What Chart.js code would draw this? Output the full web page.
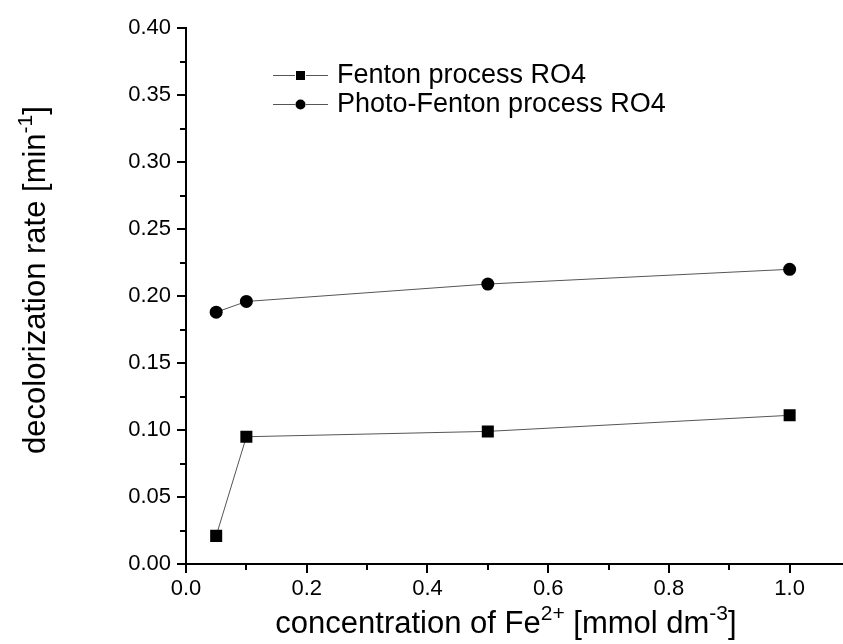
<!DOCTYPE html>
<html>
<head>
<meta charset="utf-8">
<script src="https://cdn.jsdelivr.net/npm/chart.js@4/dist/chart.umd.min.js"></script>
<style>
	html, body { margin: 0; padding: 0; background: #fff; overflow: hidden; }
	#wrap { width: 843px; height: 644px; overflow: hidden; }
</style>
</head>
<body>
<div id="wrap"><canvas id="chart" width="860" height="644"></canvas></div>
<script>
// Fe2+ concentration [mmol dm-3]
const concentrations = [0.05, 0.1, 0.5, 1.0];
// decolorization rate [min-1]
const fentonRate = [0.021, 0.095, 0.099, 0.111];
const photoFentonRate = [0.188, 0.196, 0.209, 0.220];

const seriesNames = ['Fenton process RO4', 'Photo-Fenton process RO4'];

const xMajorTicks = [0.0, 0.2, 0.4, 0.6, 0.8, 1.0];
const xMinorTicks = [0.1, 0.3, 0.5, 0.7, 0.9];
const yMajorTicks = [0.00, 0.05, 0.10, 0.15, 0.20, 0.25, 0.30, 0.35, 0.40];
const yMinorTicks = [0.025, 0.075, 0.125, 0.175, 0.225, 0.275, 0.325, 0.375];

const FONT = '"Liberation Sans", Arial, sans-serif';

function toPoints(ys) {
	return concentrations.map((x, i) => ({ x: x, y: ys[i] }));
}

// outward tick marks, major and minor
const tickMarks = {
	id: 'tickMarks',
	afterDraw(chart) {
		const ctx = chart.ctx;
		const xs = chart.scales.x;
		const ys = chart.scales.y;
		const x0 = ys.right;
		const y0 = xs.top;
		ctx.save();
		ctx.strokeStyle = '#000';
		ctx.lineWidth = 2;
		ctx.beginPath();
		for (let v of xMajorTicks) {
			let px = Math.round(xs.getPixelForValue(v));
			ctx.moveTo(px, y0); ctx.lineTo(px, y0 + 9);
		}
		for (let v of xMinorTicks) {
			let px = Math.round(xs.getPixelForValue(v));
			ctx.moveTo(px, y0); ctx.lineTo(px, y0 + 6);
		}
		for (let v of yMajorTicks) {
			let py = Math.round(ys.getPixelForValue(v));
			ctx.moveTo(x0, py); ctx.lineTo(x0 - 9, py);
		}
		for (let v of yMinorTicks) {
			let py = Math.round(ys.getPixelForValue(v));
			ctx.moveTo(x0, py); ctx.lineTo(x0 - 6, py);
		}
		ctx.stroke();
		ctx.restore();
	}
};

// text runs with raised, smaller superscripts, centred on cx
function drawRuns(ctx, runs, cx, y) {
	const big = '31px ' + FONT;
	const small = '21px ' + FONT;
	let total = 0;
	for (let r of runs) {
		ctx.font = r.sup ? small : big;
		total += ctx.measureText(r.text).width;
	}
	let x = cx - total / 2;
	for (let r of runs) {
		ctx.font = r.sup ? small : big;
		ctx.fillText(r.text, x, r.sup ? y - 13 : y);
		x += ctx.measureText(r.text).width;
	}
}

const axisTitles = {
	id: 'axisTitles',
	afterDraw(chart) {
		const ctx = chart.ctx;
		ctx.save();
		ctx.fillStyle = '#000';
		ctx.textBaseline = 'alphabetic';
		ctx.textAlign = 'left';
		drawRuns(ctx, [
			{ text: 'concentration of Fe' },
			{ text: '2+', sup: true },
			{ text: ' [mmol dm' },
			{ text: '-3', sup: true },
			{ text: ']' },
		], 506, 633);

		ctx.translate(45, 0);
		ctx.rotate(-Math.PI / 2);
		drawRuns(ctx, [
			{ text: 'decolorization rate [min' },
			{ text: '-1', sup: true },
			{ text: ']' },
		], -280, 0);
		ctx.restore();
	}
};

// legend with line-marker-line samples
const sampleLegend = {
	id: 'sampleLegend',
	afterDraw(chart) {
		const ctx = chart.ctx;
		ctx.save();
		chart.data.datasets.forEach((ds, i) => {
			let y = 75 + i * 29;
			ctx.strokeStyle = ds.borderColor;
			ctx.lineWidth = 1;
			ctx.beginPath();
			ctx.moveTo(273, y + 0.5); ctx.lineTo(295, y + 0.5);
			ctx.moveTo(306, y + 0.5); ctx.lineTo(328, y + 0.5);
			ctx.stroke();
			ctx.fillStyle = '#000';
			if (ds.pointStyle === 'rect') {
				ctx.fillRect(296, y - 4, 9, 9);
			} else {
				ctx.beginPath();
				ctx.arc(300.5, y + 0.5, 5, 0, Math.PI * 2);
				ctx.fill();
			}
			ctx.font = '27px ' + FONT;
			ctx.textBaseline = 'middle';
			ctx.fillText(ds.label, 337, y + 1);
		});
		ctx.restore();
	}
};

const ctx = document.getElementById('chart');
new Chart(ctx, {
	type: 'line',
	data: {
		datasets: [
			{
				label: seriesNames[0],
				data: toPoints(fentonRate),
				borderColor: '#555',
				borderWidth: 1,
				pointStyle: 'rect',
				pointRadius: 8.5,
				pointBackgroundColor: '#000',
				pointBorderColor: '#000',
				pointBorderWidth: 0,
			},
			{
				label: seriesNames[1],
				data: toPoints(photoFentonRate),
				borderColor: '#555',
				borderWidth: 1,
				pointStyle: 'circle',
				pointRadius: 6.5,
				pointBackgroundColor: '#000',
				pointBorderColor: '#000',
				pointBorderWidth: 0,
			}
		]
	},
	options: {
		responsive: false,
		animation: false,
		layout: { padding: { top: 25, right: 10, left: 0, bottom: 0 } },
		plugins: {
			legend: { display: false },
			tooltip: { enabled: false },
		},
		scales: {
			x: {
				type: 'linear',
				min: 0,
				max: 1.1,
				afterBuildTicks: (s) => { s.ticks = xMajorTicks.map(v => ({ value: v })); },
				afterFit: (s) => { s.height = 80; },
				grid: { display: false, drawTicks: false },
				border: { display: true, color: '#000', width: 2 },
				ticks: {
					color: '#000',
					font: { family: FONT, size: 22 },
					padding: 12,
					maxRotation: 0,
					callback: (v) => v.toFixed(1),
				},
			},
			y: {
				type: 'linear',
				min: 0,
				max: 0.40,
				afterBuildTicks: (s) => { s.ticks = yMajorTicks.map(v => ({ value: v })); },
				afterFit: (s) => { s.width = 186; },
				grid: { display: false, drawTicks: false },
				border: { display: true, color: '#000', width: 2 },
				ticks: {
					color: '#000',
					font: { family: FONT, size: 22 },
					padding: 15,
					callback: (v) => v.toFixed(2),
				},
			},
		},
	},
	plugins: [tickMarks, axisTitles, sampleLegend],
});
</script>
</body>
</html>
